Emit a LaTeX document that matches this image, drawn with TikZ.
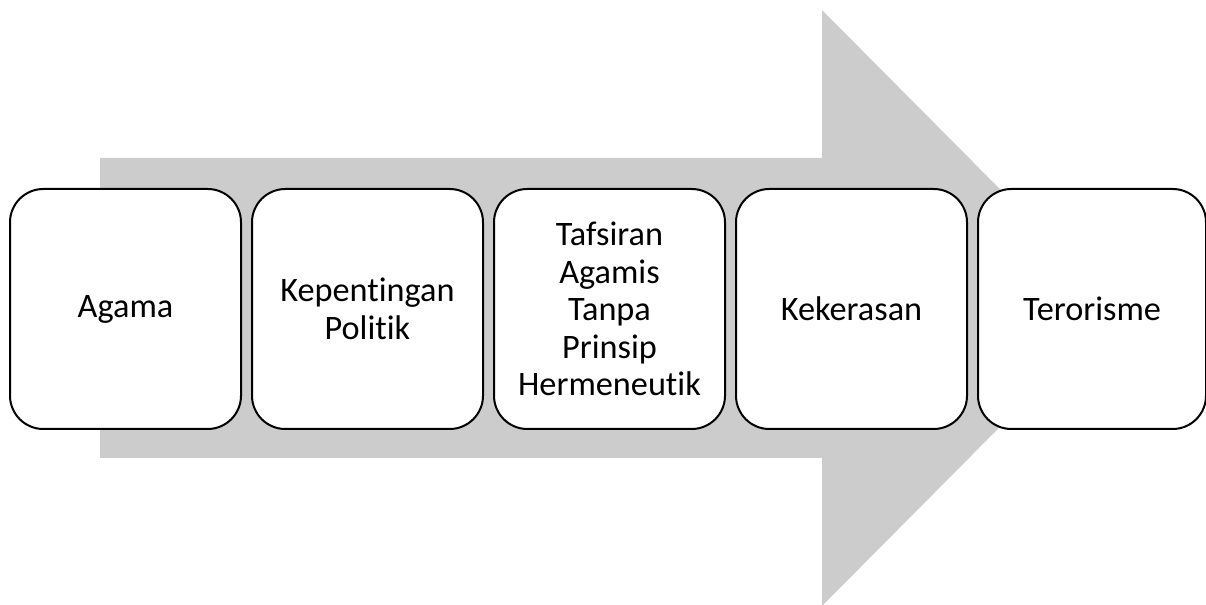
\documentclass[tikz,border=0pt]{standalone}
\usepackage{fontspec}
\setmainfont[Ligatures={NoCommon}]{Carlito}
\usepackage{xcolor}
\usepackage{tikz}
\usetikzlibrary{positioning}
\definecolor{arrowgray}{HTML}{CCCCCC}

\begin{document}
\begin{tikzpicture}[
    x=0.75pt,y=-0.75pt,
    node distance=8.25pt,
    stage/.style={draw,fill=white,line width=1.5pt,rounded corners=25pt,align=center,outer sep=0pt,
      minimum width=173.25pt,minimum height=180pt,font=\fontsize{25.7}{28.1}\selectfont}
  ]
    \useasboundingbox (0,0) rectangle (1206,605);
    \fill[arrowgray] (100,158) -- (822,158) -- (822,10) -- (1118,308) -- (822,606) -- (822,458) -- (100,458) -- cycle;
    \node[stage] (agama) at (125.5,309) {Agama};
    \node[stage,right=of agama] (politik) {Kepentingan\\Politik};
    \node[stage,right=of politik] (tafsir) {Tafsiran\\Agamis\\Tanpa\\Prinsip\\Hermeneutik};
    \node[stage,right=of tafsir] (kekerasan) {Kekerasan};
    \node[stage,right=of kekerasan,minimum width=171pt] (teror) {Terorisme};
  \end{tikzpicture}
\end{document}
